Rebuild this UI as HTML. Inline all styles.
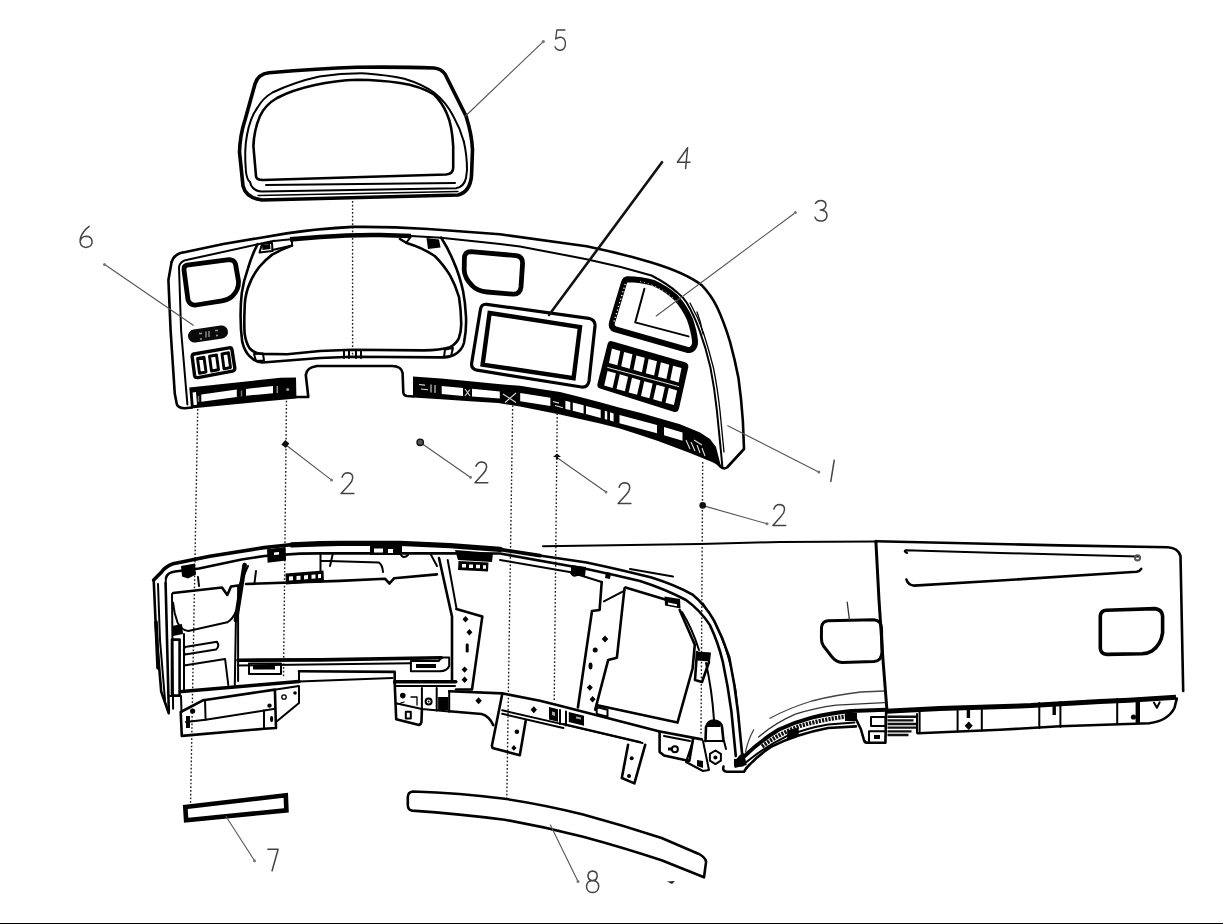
<!DOCTYPE html>
<html><head><meta charset="utf-8"><title>Exploded view</title>
<style>
html,body{margin:0;padding:0;background:#fff;overflow:hidden;width:1223px;height:924px;position:relative;font-family:"Liberation Sans",sans-serif;}
svg{display:block;filter:blur(0.45px)}
.k{fill:none;stroke:#000;stroke-linecap:round;stroke-linejoin:round}
.w1{stroke-width:1.3}.w15{stroke-width:2}.w2{stroke-width:2.6}.w25{stroke-width:3}.w3{stroke-width:3.6}.w4{stroke-width:4.6}
.ld{fill:none;stroke:#555;stroke-width:1.1;stroke-linecap:round}
.dot{fill:none;stroke:#222;stroke-width:1.4;stroke-dasharray:1.7 2}
.lb{fill:none;stroke:#444;stroke-width:1.5;stroke-linecap:round;stroke-linejoin:round}
.bf{fill:#000;stroke:none}.wf{fill:#fff;stroke:none}
</style></head><body>
<svg width="1223" height="924" viewBox="0 0 1223 924">
<rect width="1223" height="924" fill="#fff"/>

<!-- DOTTED -->
<g id="dotted" class="dot">
<path d="M352.6,201 V358"/>
<path d="M197.7,409 L190.5,806"/>
<path d="M286.5,397 L283.5,678"/>
<path d="M512.8,398 L506.8,798"/>
<path d="M557.3,406 L554.2,702"/>
<path d="M702.7,462 L701,736"/>
</g>

<!-- PART5 -->
<g id="part5">
<path class="k w3" d="M269,72.8 Q320,68.6 357,67.3 Q400,66.8 434,68 Q441,68.5 445,74 L466,116 Q472,135 472.5,150 L471.5,176 Q470,192 458,195 L262,200 Q246,198 243,186 L239.5,152 Q240,135 245,120 L255,84 Q258,74 269,72.8 Z"/>
<path class="k w2" d="M256,176 Q256,180 263,180 L446,174.5 Q453,174 453.2,168 L453.2,146 Q452,125 447,114 Q442,102 434,94.5 Q420,86 400,83 Q380,80 357.5,79.8 Q335,80.5 315,85 Q292,90 277,98 Q265,105 260,116 Q254,130 253.4,146 Z"/>
<path class="k w15" d="M247,135 Q250,118 257.6,107.4 Q263,98 272.5,92.5 Q295,82 319.3,76.6 Q343,73 366,73.4 Q388,75 404.3,78.7 Q422,84 434,92.5 Q446,102 453.2,116 Q460,128 463.8,141.4"/>
<path class="k w15" d="M266,185 L455,183"/>
<path class="k w15" d="M250,182 Q252,191 262,191.4 L456,188.2 Q464,187 466,178"/>
<path class="k w1" d="M258,195.5 L458,191.5"/>
<path class="k w15" d="M247,135 Q244,150 246,172 Q247,180 250,182"/>
<path class="k w15" d="M463.8,141.4 Q467,155 467,170 L466,178"/>
</g>

<!-- PART1 -->
<g id="part1">
<!-- outer contour -->
<path class="k w2" d="M171.6,262 Q174,254 183.2,252.4 L223.3,244 L286.6,233.4 Q320,228.5 352.5,226.9 Q390,226.5 428.2,229 L500,234.3 L586.6,246.2 Q620,253 651.5,262.5 Q686,273 701.7,285.2 Q711,295 716.9,306.8 Q724,322 729.9,341.4 Q735,360 738.5,378.2 Q741.5,400 742.9,421.5 L744,449 L727,467.5 Q724,469.5 721,467 L713,459"/>
<path class="k w2" d="M413,396.5 L407,396 Q403.5,395.5 403.3,392.5 L402.6,373 Q401.6,366.2 392,366 L317,366 Q306.6,367.4 305.8,375 L308.3,397 L296,397"/>
<path class="k w2" d="M192,407.5 L185,408.3 Q178,408 176.9,404.4 L174.8,393.8 L170.6,330.5 L168.4,279.9 L171.6,262"/>
<!-- inner contour -->
<path class="k w15" d="M187.4,404.4 L181.1,330.5 L179,267.2 Q180,261 187.4,259.8 L274,240.8"/>
<path class="k w15" d="M274,241 L291,239.2"/><path class="k w4" d="M290,239.4 L320,237 Q352,234.6 380,235 L411,236" style="stroke-linecap:butt"/>
<path class="k w15" d="M411,236 L441,237.7 L500,244 L520,246.4 L586.6,259.2 Q620,266 651.5,275.5 Q668,284 677.5,292.8 Q683,297 686.6,302.5 Q694,315 699.6,330.6 Q706,348 710.4,367.4 Q714.5,388 716.9,410.7 L721.2,454 L722.3,465.9"/>
<path class="k w1" d="M690,303 Q698,317 703.5,333 Q709,350 713.5,368 Q717.5,388 720,411 L724,452"/>
<!-- upper-left vent -->
<path class="k" style="stroke-width:4.8" d="M184,270 Q183.5,266 187,265.2 L229,259.6 Q234,259.5 235.5,264 L238.5,281 Q239,290 232,296.5 Q228,300 222,300.8 L196,305 Q190,305.5 188,300 Z"/>
<!-- switch 6 pill -->
<path d="M194.5,336 L221.5,332" stroke="#0a0a0a" stroke-width="13" stroke-linecap="round" fill="none"/>
<path d="M199,333.5 h3 M206,331.5 v6 M209,331 v6 M215,330.5 h3 M200,339 h2 M216,335.5 h2" stroke="#999" stroke-width="1.3" fill="none"/>
<!-- switch group 3 -->
<path class="k" style="stroke-width:3.4" d="M194,354 Q192,354.5 192.2,357 L194.6,375.5 Q195,378 198,377.6 L232.5,371.2 Q235,370.5 234.8,368 L232,349.8 Q231.5,347.3 229,347.8 Z"/>
<path class="k" style="stroke-width:2.9" d="M197.5,358.5 L204,357.3 L206,372 L199.5,373.2 Z M209.5,356.2 L216.5,355 L218.5,369.8 L211.5,371 Z M222,354 L228.5,352.8 L230.5,367.5 L224,368.8 Z"/>
<!-- left strip -->
<path class="bf" d="M189.3,387.6 L280.4,377.8 L296,377.6 L296.4,398.4 L191,408.4 Z"/>
<path class="wf" d="M201.3,394.4 L236.8,389.5 L236.8,396.9 L201.3,401.8 Z M246,388.9 L273,385.9 L273,393.2 L246,395.7 Z M192.6,392.5 l3.4,-0.4 l1,12.6 l-3.4,0.4 Z"/>
<circle cx="287.7" cy="389.5" r="1.6" fill="#999"/>
<path d="M277.3,386 v7" stroke="#888" stroke-width="1.6" fill="none"/>
<path d="M241.5,390.5 v6 M198.5,396 v6" stroke="#777" stroke-width="1.5" fill="none"/>
<!-- cluster opening -->
<path class="k w2" d="M257.6,244.2 Q251.5,256 247.9,268.6 Q243.5,281 241.8,292.9 Q240.4,305 240.6,317.3 Q240.6,330 242.2,341.6 Q244.5,351 249.5,356.2 Q254.5,361.8 262.5,362.5 L320,358 L352,356.8 L441.2,357.4 Q449,357.4 453.8,355 Q462,350.6 464,342.7 Q466.6,330 466,316.7 Q465.4,303 463,290.8 Q459.5,275 454,262.6 Q448,248 441.2,237.7"/>
<path class="k w2" d="M292,245.6 Q281,249.6 272.2,254.6 Q265,260 259.2,267 Q251.5,277 247.9,288 Q244.6,298 244.6,309.2 Q244,322 244.6,333.5 Q246,343 249.5,348.1 Q254,353.4 262.5,353.9 L287,354.3 L320,351 L352,349.8 L423.9,350.4 Q440,350 449.9,347.2 Q456,344.2 458.8,338.4 Q461.4,331 461.2,323 Q461,309 459,297 Q455.4,285 450.2,275.6 Q443,264 434.7,256 Q422,247.5 406.6,243 L400,239"/>
<path class="k w15" d="M259.5,252.5 L262,244 L272,242.8 L272.5,251 Z"/><path class="bf" d="M262,245 l8,-1 l0.5,5 l-8,1z"/>
<path class="k w15" d="M272.5,250 L292,245.6 L292,240"/>
<path class="k w15" d="M406,243 L411,236.5"/><path class="bf" d="M426.5,238 l12.5,1.5 l1.5,8 l-12.5,1.5z"/>
<path class="k w15" d="M254,354 l9,-0.5 l1,7 l-8,0.5 z M445,349.5 l8,-1.5 l-2,8 l-7,1 z"/>
<path class="k w15" d="M344,350 v8 M349,350 v8 M356,350 v8 M361,350 v8"/>
<!-- upper centre vent -->
<path class="k" style="stroke-width:4.8" d="M464.4,258 Q464.6,251.6 471,251.6 L516,255.6 Q522.6,256.6 522.6,263 L521,287 Q520,294.6 513,294.2 L487,292 Q477,291 472,285.5 Q464.5,278 464.2,270 Z"/>
<!-- display frame -->
<path class="k" style="stroke-width:3.2" d="M486.7,304.3 L588.7,318.3 Q595.5,320 595,326 L589,381 Q588,387.5 581.5,387 L477,370.2 Q471,369 471.6,363.5 L480.5,309 Q481.5,303.8 486.7,304.3 Z"/>
<path class="k" style="stroke-width:4.4;stroke-linejoin:miter" d="M489.6,313 L580,327 L573.6,378.2 L482.6,364.6 Z"/>
<!-- part 3 window -->
<path class="k" style="stroke-width:6" d="M627.5,279.2 Q641,279.2 654.1,283.2 Q666,288.5 675.8,297.5 Q684.5,307 689.8,319.1 Q694,331 695,340.8 Q695.5,347 691.5,349.3 Q689.5,350.6 686.5,349.6 L615.5,329.4 Q610.5,327.6 612,322.5 L624,282.6 Q625,279.4 627.5,279.2 Z"/>
<path d="M625.2,284 L613.6,323" stroke="#fff" stroke-width="1.3" stroke-dasharray="1.2 2.6" fill="none"/>
<path d="M640,281.5 Q664,287 678,303" stroke="#fff" stroke-width="1" stroke-dasharray="1 3" fill="none"/>
<path class="k w15" d="M644.4,288.8 L635.2,322.4 L688.5,336.4"/>
<path class="k w1" d="M697,312 Q701,322 703,334"/>
<!-- 2x6 switch panel -->
<path d="M612,341.2 L685,362.2 Q689,363.6 688.2,367.5 L679,408.5 Q677.8,413 673.5,411.8 L600,388.6 Q596.6,387.4 597.5,383.8 L607.6,344 Q608.6,340.4 612,341.2 Z" fill="#000"/>
<path class="wf" d="M611.9,348.5 L620.3,350.9 L617.4,365.3 L609.0,362.9 Z M624.1,351.9 L632.5,354.3 L629.6,368.7 L621.2,366.3 Z M636.4,355.4 L644.8,357.8 L641.9,372.2 L633.5,369.8 Z M648.6,358.9 L657.0,361.2 L654.1,375.6 L645.8,373.2 Z M660.9,362.3 L669.3,364.7 L666.4,379.1 L658.0,376.7 Z M673.1,365.8 L681.5,368.1 L678.6,382.5 L670.2,380.1 Z M607.5,370.9 L615.9,373.3 L612.6,387.9 L604.2,385.5 Z M619.8,374.3 L628.1,376.7 L624.9,391.3 L616.5,388.9 Z M632.0,377.8 L640.4,380.2 L637.1,394.8 L628.7,392.4 Z M644.2,381.2 L652.6,383.6 L649.4,398.2 L641.0,395.9 Z M656.5,384.7 L664.9,387.1 L661.6,401.7 L653.2,399.3 Z M668.8,388.1 L677.1,390.5 L673.9,405.1 L665.5,402.8 Z"/>
<path d="M607.3,367.3 L678.9,386.6" stroke="#fff" stroke-width="0.9" fill="none"/>
<!-- right strip -->
<path class="bf" d="M413.0,376.5 L441.0,378.5 L470.0,381.3 L498.0,384.0 L520.0,385.8 L540.0,388.9 L560.0,392.0 L580.0,397.1 L600.0,402.2 L619.0,407.6 L640.0,412.8 L660.0,418.6 L680.0,424.3 L700.0,432.5 L710.0,439.0 L716.0,447.0 L721.0,466.5 L712.0,462.0 L690.0,453.0 L658.0,441.0 L640.0,435.1 L619.0,428.2 L600.0,423.5 L580.0,418.9 L560.0,414.4 L540.0,410.4 L520.0,406.5 L498.0,403.0 L470.0,401.2 L441.0,399.3 L413.0,397.5 Z"/>
<path class="wf" d="M441.7,385.9 L463.0,387.9 L463.0,395.9 L441.7,394.1 Z M472.0,388.8 L499.8,391.4 L499.8,398.5 L472.0,396.5 Z M520.2,393.1 L550.4,397.8 L550.4,406.0 L520.2,401.3 Z M565.4,400.7 L570.3,401.9 L570.3,410.1 L565.4,408.9 Z M572.8,402.6 L583.6,405.3 L583.6,413.5 L572.8,410.8 Z M586.0,405.9 L600.7,409.7 L600.7,417.9 L586.0,414.1 Z M604.8,410.9 L607.2,411.5 L607.2,419.7 L604.8,419.1 Z M610.0,412.3 L613.6,413.4 L613.6,421.6 L610.0,420.5 Z M619.5,415.0 L657.0,425.0 L657.0,433.2 L619.5,423.2 Z M664.0,427.0 L682.5,432.6 L682.5,440.8 L664.0,435.2 Z"/>
<path d="M419,384.5 l6,0.6 M421,389 l7,0.7 M431,384.5 l0,8 M435,385 l0,8 M465,389 l5,7 M470,389.5 l-5,6.5 M503,394 l13,8.5 M505,402.5 l11,-9.5 M553,401.5 l6,1.6 M555,405.5 l8,2.2 M686,440 l4,9 M691,442 l4,9 M697,445 l3,8 M702,448 l3,8 M694,440 l8,5" stroke="#ddd" stroke-width="1.1" fill="none"/>
</g>


<!-- LOWER -->
<g id="lower">
<!-- top rails -->
<path class="k w3" d="M153.7,580 L161.6,572 Q166,566 173.1,563.8 L209.9,556.2 L264,547.6 L295,544.3"/><path class="k" style="stroke-width:5.4" d="M292,544.9 L320,543.8 L340,543.4 L400,543.4 L450,545.6 L500,549.4"/>
<path class="k" style="stroke-width:3.8" d="M498,549.2 L540,555.6"/><path class="k w2" d="M536,555 L586.6,562.5 Q622,570 651.5,577.6 Q675,585 692.5,594.6 Q705,605 714.1,620.6 Q723,638 729.3,657.4 Q735,685 737.9,711.5 L742.3,756"/>
<path class="k w2" d="M166,578 Q167,572.5 175,571.5 L199,568.5 L241.6,559.5 L264.5,556 L300,553.6 L320,553.4 L437,553.4 L500,553.5 L586.6,569 Q615,575 640,581 Q665,589 686,600 Q700,610 709.8,624.9 Q718,642 722.8,661.7 Q728,686 731.4,711.5 L735.8,756"/>
<path class="k w1" d="M703,603 Q716,622 725,647 Q732,668 735.8,690 L739,720"/>
<path class="k w15" d="M630,569 L673,576.5"/>
<path class="k w15" d="M500,560 L571,572.2"/>
<!-- right panel top -->
<path class="k w15" d="M543,546.2 L700,544 L780,541.9 L876,541.5"/>
<!-- clips on rail -->
<path class="bf" d="M181,566 l14,-2.5 l1,11 l-8,4 l-6,-2 z M267,549.3 l18.5,-2.2 l0.6,13.5 l-18.5,2.2 z M370,546 h32 v9 h-32 z M455,550 l38,3 l-1,9 l-34,-2 z"/>
<path class="wf" d="M374,548.5 h9 v4 h-9 z M388,549 h5 v4 h-5z M274,552.5 l5,-0.6 v2.6 l-5,0.6z"/>
<path class="k w15" d="M320.5,553 V582 M320.5,560.8 L379,562.6 Q382.5,565 383,572"/>
<!-- connector blocks -->
<path class="bf" d="M285.5,573.5 l38,-3 l0.5,11 l-38,3 z M458.5,561 l30,1.5 l-0.5,9 l-30,-1.5 z"/>
<path class="wf" d="M289,576.5 l4,-0.3 v4 l-4,0.3z M296.5,576 l4,-0.3 v4 l-4,0.3z M304,575.4 l4,-0.3 v4 l-4,0.3z M311.5,574.8 l4,-0.3 v4 l-4,0.3z M318,574.3 l3,-0.3 v4 l-3,0.3z M462,564 h4 v3.5 h-4z M469,564.4 h4 v3.5 h-4z M476,564.8 h4 v3.5 h-4z M483,565.2 h3 v3.5 h-3z"/>
<!-- left end -->
<path class="k w2" d="M153.7,580 L155.8,626.6 L161.2,691.5 L168.8,713.2"/>
<path class="k w15" d="M158,584 L160,640 L165,700"/>
<path class="k w2" d="M165.6,583.3 L168.8,711"/>
<path class="k w15" d="M172,594 L173.1,708.8"/>
<path class="k w3" d="M156,622 L158,668"/>
<path class="k w15" d="M166,578 L165.6,583.3"/>
<!-- upper-left compartment -->
<path class="k w2" d="M173.1,593 L222,587.5 L227.3,595 L231,586.5 L238.1,585.5"/>
<path class="k w15" d="M173.1,602.8 Q174,613 177.5,622.3 Q181,630 188.3,630.9 L227.3,622.3 Q233,619 235.9,611.4"/>
<path class="k w4" d="M244.6,565 L235.9,620"/>
<path class="k w15" d="M235.9,620 L234.8,685"/>
<path class="k w15" d="M248,566 L240,584 M256,571 l-1.5,12"/>
<path class="k w15" d="M198,577 l1,9"/>
<!-- vertical bar & shelves -->
<path class="k w2" d="M172,639.6 h7.6 v56 h-7.6 z"/>
<path class="bf" d="M172,626 l10,-2 l1,10 l-10,2z"/>
<path class="k w15" d="M185,647 Q182.5,650 185,654.5 L216,649.5 Q220,646 217,641.8 Z"/>
<path class="k w15" d="M184,665.5 L225.1,659 L228.3,685"/>
<path class="k w15" d="M184,634 L184,690"/>
<!-- opening -->
<path class="k w2" d="M246,584 L340,580.9 L384.9,578.7 L389.5,583.5 L394,578.3 L436.9,574.4"/>
<path class="k w15" d="M238.1,585.5 L238.1,681"/>
<path class="k w2" d="M439,558 L452,616.6 L452,682"/>
<path class="k w15" d="M447.7,560 L456.4,607.9"/>
<path class="k w15" d="M333,553 L330,566 M400,553 Q403,560 408,555 M430,553 L437,566"/>
<path class="k w3" d="M238,660.2 L320,659.9 L441.2,657.7"/>
<path class="k w15" d="M238,665.5 L410.9,663.3"/>
<!-- opening clips -->
<path class="k w15" d="M249,663.5 h32 v10.5 h-32 z"/>
<path class="bf" d="M253,665.5 h22 v4 h-22z"/>
<path class="k w15" d="M410.9,661 h28 L441,657.5 L449.2,657.4 L449.2,666 Q447,671 440,671.3 L410.9,671.3 Z"/>
<path class="bf" d="M416,664 h20 v4 h-20z"/>
<!-- notch -->
<path class="k w2" d="M299,671.3 L394.7,671.9 L394.7,683"/>
<path class="k w15" d="M299,671.3 L299,681.5"/>
<path class="k w15" d="M299,681.5 L392.5,678"/>
<path class="k w3" d="M181.8,691.5 L299,681.5"/>
<path class="k w3" d="M394.7,681.8 L455.8,681.8"/>
<path class="k w15" d="M396.2,686 L455,686"/>
<!-- bottom-left bracket -->
<path class="k w2" d="M203.4,700.2 L274.9,689.6 L276,728 L264,728.8 L181.8,735.9 L180.7,712 L203.4,700.2"/>
<path class="k w15" d="M205.6,719.7 L274.9,708.8"/>
<path class="k w15" d="M205,700 L205.6,719.7 L186,722"/>
<path class="k w15" d="M264,710.5 L264,728.5"/>
<path class="k w15" d="M276,689.6 L299,686 L299,703 L276,722"/>
<path class="k w15" d="M170,696 L181,696 L181.5,712"/>
<circle cx="192.6" cy="711" r="2.6" class="bf"/><circle cx="269.5" cy="705.6" r="2.2" class="bf"/><ellipse cx="271.6" cy="719" rx="1.6" ry="3" class="bf"/>
<circle cx="284" cy="697" r="2.2" class="k w1"/><circle cx="295" cy="693" r="1.8" class="bf"/>
<path class="bf" d="M186,716 l4,0 l0,12 l-4,0z"/>
<!-- bracket 1 with holes -->
<path class="k w2" d="M456.4,609 L482.3,616.6 L472,689.5 L456,689.5"/>
<path d="M465.5,616 l3,3.2 l-3,3.2 l-3,-3.2z M469.4,629 l3,3.2 l-3,3.2 l-3,-3.2z M464.6,666.4 l3,3.2 l-3,3.2 l-3,-3.2z M464.6,676.6 l3,3.2 l-3,3.2 l-3,-3.2z" class="bf"/>
<rect x="465.7" y="643.5" width="3" height="9" rx="1.2" class="bf"/>
<!-- lower-left bracket -->
<path class="k w2" d="M394.7,683 L396.2,719.2 L419,725 Q421.5,724 421.5,720.7 L421.9,709.5"/>
<path class="k w15" d="M397,703.5 L421.9,708.9 L449.2,711.5"/>
<path class="k w15" d="M421.9,688 L421.9,709 M436.7,688 L436.7,710.5 M449.2,691 L449.2,711.5"/>
<circle cx="402.8" cy="695.6" r="2.8" class="bf"/><circle cx="428.6" cy="701.5" r="3" class="k w15"/><circle cx="428.6" cy="701.5" r="1" class="bf"/>
<rect x="405.8" y="711.8" width="5" height="6.6" class="k w15"/>
<path class="bf" d="M438.1,697 h10.3 v13.3 h-10.3z"/><path class="wf" d="M440,691.5 h7 v5 h-7z"/>
<path class="k w1" d="M411,697 h6 v8 M398,704 l6,-2"/>
<!-- centre beam -->
<path class="k w2" d="M449.2,691.2 L502.2,693.4 L540,700.7 L560,705.7 L658.7,731.3 L701.9,739.4"/>
<path class="k w2" d="M449.2,711.3 L481.6,714 Q489,716 493.3,725.1"/>
<path d="M478.6,697.3 l3.2,3.5 l-3.2,3.5 l-3.2,-3.5z M533.8,706.2 l3.2,3.5 l-3.2,3.5 l-3.2,-3.5z" class="bf"/>
<path class="k w2" d="M502.2,694.2 L491.9,745.7 L492.5,748 L519.8,755.2 L525.7,720.7"/>
<circle cx="516.9" cy="731.7" r="2.3" class="bf"/><path d="M513.9,745 l2.6,2.9 l-2.6,2.9 l-2.6,-2.9z" class="bf"/>
<path class="k w15" d="M502.2,710.3 L560,723.6 L642.5,743"/>
<path class="k w15" d="M502.2,713.8 L560,727.2 L563.4,728"/>
<path class="k w15" d="M563.4,724 L640,742"/>
<path class="bf" d="M549,707 l9,2.2 v12.5 l-9,-2.2z M568.8,712 l15.2,3.8 v10 l-15.2,-3.8z"/>
<path d="M552,711.5 l3,0.8 v3.6 l-3,-0.8z M576,716.4 l5,1.2 v2 l-5,-1.2z" fill="#aaa"/>
<path class="k w15" d="M560,710 v14 M566,711.5 v14"/>
<!-- bracket 2 -->
<path class="k w2" d="M601.7,582 L599.6,610 L592,611 L577.9,707.5 M595.2,709.7 L608.2,659.9 L616.9,657.7 L624.5,588.4"/>
<path class="k w15" d="M603.9,601.4 L624.5,590.6"/>
<path d="M605,635.4 l3.3,3.5 l-3.3,3.5 l-3.3,-3.5z M589.8,684.4 l3,3.2 l-3,3.2 l-3,-3.2z M592.6,696 l3,3.3 l-3,3.3 l-3,-3.3z" class="bf"/><circle cx="595.2" cy="650" r="2.5" class="bf"/><ellipse cx="590.5" cy="666" rx="2" ry="3.4" class="bf"/>
<path class="k w15" d="M596.7,707 l10.8,2.8 v7 l-10.8,-2.8z"/>
<!-- right opening -->
<path class="k w2" d="M625.5,587.4 L664.5,599.3 M679.7,610 L694.8,644.7 L692.6,668.5 L677.5,722.6 L597.4,705.3"/>
<path class="bf" d="M664.5,596.5 l15.5,2.5 l0.5,9.5 l-15.5,-3z"/><path class="wf" d="M668,602.5 l9,1.8 v2 l-9,-1.8z"/>
<path class="k w15" d="M571,573 Q574,578 578,574 M601.7,582 L571.5,572.5"/>
<path class="bf" d="M571,565 l15,2 l-1,9 l-14,-3z M606,572 l5,1 l-1,6 l-5,-1z"/>
<path class="k w15" d="M682,612 Q692,628 699,650"/>
<!-- right-side clips -->
<path class="bf" d="M697,651.5 l14,1 l-1,9 l-13,-1z"/>
<path class="k w2" d="M697,652 L695,680 L702,682 L709,662"/>
<path class="k w15" d="M706,663 Q712,690 714,720"/>
<path class="k w2" d="M705.5,741 L706,727 Q708,720.5 714,720.5 Q721,721 722,727 L723.5,741"/>
<path class="bf" d="M707,722 h13 v5 h-13z"/>
<!-- lower right box & nut -->
<path class="k w2" d="M659.6,732 L659.6,752 L664.1,755.6 L689.3,761 L693,739"/>
<path class="k w15" d="M664,736 L690,741"/>
<circle cx="674.9" cy="749.3" r="3" class="k w15"/><path class="bf" d="M668,747.5 h5 v3 h-5z"/>
<path class="k w15" d="M693,741 L686,762 L703,771 L709,770 L703,741"/>
<path class="bf" d="M697,760 l6,1 v7 l-6,-2z"/>
<path class="k w15" d="M715.4,750.5 l5.5,3.4 v6.8 l-5.5,3.4 l-5.5,-3.4 v-6.8z"/><circle cx="715.4" cy="757.4" r="2" class="bf"/>
<path class="k w15" d="M705,741 h19 l2,8"/>
<path class="k w2" d="M723.5,766.5 Q722,771.5 727,771.7 L744,771.7 L746.4,768"/>
<path class="bf" d="M734,759 h9.5 v7.5 h-9.5z"/>
<!-- small tab 2 -->
<path class="k w2" d="M628.1,744.8 L621.8,778 L634.4,783.4 L645.2,744.8"/>
<circle cx="631.7" cy="758.2" r="2" class="bf"/><circle cx="629" cy="776" r="2" class="bf"/>
<!-- bottom right arcs -->
<path class="k" style="stroke-width:4" d="M744.7,756 Q760,741 779,729.5 Q795,722 811.8,717.6 Q830,713.2 851,711 L886.2,709.7"/>
<path class="k w2" d="M746.4,768.1 Q757,756 770.9,746.9 Q784,740 798.7,735.4 Q813,731 828.1,728 L855.9,726.4"/>
<path class="k w15" d="M746.4,762 Q766,746 787.2,735.8 Q807,728 828.1,724.4 L854.3,722.6"/>
<path class="k w1" d="M770,718.2 Q789,708 811.8,701 Q835,695 860.8,692 L884.5,691" style="stroke:#444"/>
<path class="k w1" d="M758.6,737 Q775,723 795.4,714.2 Q815,708 836.3,705.2 L884.5,702.7" style="stroke:#333"/>
<path class="k w1" d="M745.5,751.8 Q748,740 753.7,729.7" style="stroke:#444"/>
<path d="M762,746.5 Q780,733 800,726 Q822,719.5 846,716.6" stroke="#111" stroke-width="4.2" stroke-dasharray="2.2 1.1" fill="none"/><path class="bf" d="M787.2,730.5 l11.5,-3 v8 l-11.5,3.5z"/><path class="bf" d="M845,713 h12 v8 h-12z"/>
<path class="bf" d="M739.8,755 l4,-2 l3,12 l-12,3 l-1,-6z"/>
<!-- tab at glovebox -->
<path class="k w2" d="M855.9,719 L860.8,729 L864.1,740.5 Q865,743 868,742.8 L885.4,742.8 L886.2,710"/>
<path class="k w15" d="M869,731.3 h16 M869,731.3 v11 M871,717 h14.5 v9 h-14.5z"/>
<path class="bf" d="M874,735 h6 v4 h-6z"/>
<path d="M887.5,716.8 h29 M887.5,720.4 h26 M887.5,724 h29 M887.5,727.6 h29 M887.5,731.4 h24 M887.5,735 h21" stroke="#111" stroke-width="2.4" fill="none"/>
<path class="k w15" d="M917,714 V733"/>
<!-- left handle on right panel -->
<path class="k w25" d="M828,620.8 L874,619.8 Q881,620.5 881.5,628 L882,652 Q881.5,661 874,661.6 L842,662.5 Q836,662 832,657 L823.5,646 Q821.3,643 821.4,638 L821.5,627.5 Q822,621.5 828,620.8 Z"/>
<path class="k w1" d="M847.2,602.2 L849.4,619.5" style="stroke:#333"/>
<!-- glove box -->
<path class="k w25" d="M875.9,541.3 L879,600 L883,660 L887,711"/>
<path class="k w2" d="M875.9,541.3 L1060,545.4 L1168,547.3 Q1178,548 1180.5,556 L1183.2,691"/>
<path class="k" style="stroke-width:5;stroke-linecap:butt" d="M886,711.2 L940,708.6 L1031,705.6 L1100,701.6 L1128.7,700.2 L1176,697.3"/>
<path class="k w15" d="M907,553 Q903.5,551.5 905.5,550.3 L1000,553 L1138.2,556.6"/>
<circle cx="1137.5" cy="557.8" r="2.6" class="k w15" style="stroke:#555"/>
<path class="k w2" d="M906.4,579.5 Q908,585 914,585.6 L1000,580.5 L1136.7,571.8 Q1140,571 1141.2,568.8"/>
<path class="k w3" d="M1106.5,610.2 L1155,608.6 Q1162,609.5 1162.6,616 L1162.6,632.8 Q1161,645 1151.9,651 Q1148,653.5 1142,653.8 L1107,654.4 Q1100.5,654 1100.3,648 L1100.3,616 Q1100.8,610.5 1106.5,610.2 Z"/>
<!-- glovebox lower trim -->
<path class="k w2" d="M918,733.3 L1000,729.8 L1060,726.2 L1149.3,723.2 Q1168,721 1174.5,707.8 L1176.8,698.6"/>
<path class="k w15" d="M919.6,712 V733 M957.6,707.5 V731.5 M981.8,706 V730.5 M1039.3,703 V728 M1060.4,702 V727 M1117.2,699 V724.3"/><path d="M1137.8,699 V723.6" stroke="#000" stroke-width="4.4" fill="none"/><circle cx="1133.5" cy="717" r="2.6" class="bf"/>
<path d="M968.4,710 v8 M1054.2,705 v10" stroke="#000" stroke-width="3.4" fill="none"/>
<path d="M968.7,721.6 l4,4.2 l-4,4.2 l-4,-4.2z" class="bf"/>
<path class="k w15" d="M1153.9,702.5 l3,5.3 l2.8,-5.5"/>
</g>


<!-- PART7/8 -->
<g id="p78">
<path class="k w4" d="M185.3,807 L285.8,795.3 L286.4,810.4 L186.1,820.2 Z" style="stroke-linejoin:miter"/>
<path class="k w2" d="M413,791.5 Q407.5,792 407.8,798 L407.8,805 Q408,810 412,810.6 Q460,814 504.7,819.7 Q545,827 583.1,836.7 Q625,848 661.6,860.3 L704,877.3 L706.1,861.6 Q705,857 698.3,853.7 L661.6,838 Q622,825 583.1,814.5 Q545,805 504.7,798.8 Q460,793 413,791.5 Z"/>
<path d="M667,881.5 l8,-0.5 l-3,3 z" fill="#222"/>
</g>

<!-- LEADERS -->
<g id="leaders">
<path class="ld" d="M543,41.8 L465.5,116"/><circle cx="543.3" cy="41.6" r="1.6" fill="#777"/>
<path class="k w2" d="M662,162.2 L549,315" style="stroke:#111"/>
<path class="ld" d="M795.2,212.7 L656.2,316"/><circle cx="795.4" cy="212.5" r="1.5" fill="#777"/>
<path class="ld" d="M104.7,264.5 L193.3,325.2"/><circle cx="104.5" cy="264.4" r="1.5" fill="#777"/>
<path class="ld" d="M727.7,425.8 L818.6,471.9"/><circle cx="818.8" cy="472" r="1.5" fill="#777"/>
<path class="ld" d="M286,445 L331.3,479.9"/><circle cx="331.5" cy="480" r="1.5" fill="#777"/>
<path class="ld" d="M421,443 L470.3,477.2"/><circle cx="470.5" cy="477.3" r="1.5" fill="#777"/>
<path class="ld" d="M557.5,458 L605.9,492"/><circle cx="606" cy="492.1" r="1.5" fill="#777"/>
<path class="ld" d="M703,505.6 L766.8,523.7"/><circle cx="767" cy="523.8" r="1.5" fill="#777"/>
<path class="ld" d="M225.9,816.3 L254.4,860.5"/><circle cx="254.5" cy="860.7" r="1.5" fill="#777"/>
<path class="ld" d="M550.4,825 L577.9,881.2"/><circle cx="578" cy="881.4" r="1.5" fill="#777"/>
</g>

<!-- FASTENERS -->
<g id="fast">
<path d="M285.3,440 l4,3.5 l-3.5,4.5 l-4.5,-3.5 z" fill="#111"/>
<circle cx="420.2" cy="442.3" r="3.2" fill="#555" stroke="#111" stroke-width="1.4"/>
<path d="M557,453.5 l4,3.5 h-8 z" fill="#111"/><rect x="555.8" y="456.5" width="2.4" height="3" fill="#111"/>
<circle cx="702.7" cy="505.4" r="3.3" fill="#111"/>
</g>

<!-- LABELS -->
<g id="labels" class="lb">
<!-- glyph defs drawn in 13x22 box -->
<g transform="translate(554.6,29.5) scale(0.9,1)"><path d="M11.5,0.5 H2.5 L1.2,9.5 Q4,7.6 6.8,7.8 Q12,8.6 12,14.2 Q11.8,20.5 6.2,20.7 Q2,20.6 0.5,17.2"/></g>
<g transform="translate(677,147.5)"><path d="M8.6,21 L10.6,0.3 L0.4,14.8 H13"/></g>
<g transform="translate(814.7,200)"><path d="M0.8,3.4 Q2.6,0.3 6.4,0.4 Q11.2,0.8 11.2,5.2 Q11,9.6 5.6,9.9 Q12.4,10.2 12.3,15.6 Q11.8,21 6.2,21.1 Q1.6,20.8 0.3,17.2"/></g>
<g transform="translate(78.9,226)"><path d="M10.2,0.3 Q3.4,5.5 1.4,12.5 Q0,20.6 6.8,21.4 Q13.4,21 13.2,15.4 Q12.6,10.2 7.2,10.2 Q2.6,10.6 1.4,14.5"/></g>
<g transform="translate(267.5,848.7)"><path d="M0.4,0.5 H10.6 L4.6,22"/></g>
<g transform="translate(585.8,870.7)"><path d="M6.8,0.4 Q11.4,0.8 11.4,5.2 Q11.2,9.6 6.8,9.9 Q2.4,9.6 2.2,5.2 Q2.4,0.8 6.8,0.4 Z M6.8,9.9 Q12.8,10.4 12.9,15.8 Q12.6,21.6 6.8,21.9 Q1,21.6 0.7,15.8 Q0.9,10.4 6.8,9.9 Z"/></g>
<g transform="translate(829.6,460)"><path d="M4.6,0.3 L1.2,21.4"/></g>
<g id="two" transform="translate(340.5,472.4)"><path d="M1.6,4.8 Q3,0.4 7.4,0.4 Q12.4,0.8 12.2,5.6 Q12,9 8.4,12.6 L0.6,21.2 H13.4"/></g>
<g transform="translate(474.4,461.5)"><path d="M1.6,4.8 Q3,0.4 7.4,0.4 Q12.4,0.8 12.2,5.6 Q12,9 8.4,12.6 L0.6,21.2 H13.4"/></g>
<g transform="translate(617.5,482.4)"><path d="M1.6,4.8 Q3,0.4 7.4,0.4 Q12.4,0.8 12.2,5.6 Q12,9 8.4,12.6 L0.6,21.2 H13.4"/></g>
<g transform="translate(772.3,504.2)"><path d="M1.6,4.8 Q3,0.4 7.4,0.4 Q12.4,0.8 12.2,5.6 Q12,9 8.4,12.6 L0.6,21.2 H13.4"/></g>
</g>
</svg>
<div style="position:absolute;left:0;top:923px;width:1223px;height:1px;background:#000"></div>
</body></html>
